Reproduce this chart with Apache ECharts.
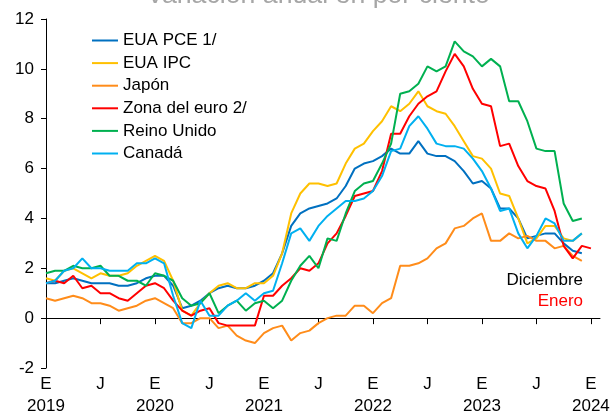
<!DOCTYPE html>
<html>
<head>
<meta charset="utf-8">
<script src="https://cdn.jsdelivr.net/npm/echarts@6/dist/echarts.min.js"></script>
<style>
  html, body { margin: 0; padding: 0; background: #fff; }
  #chart { width: 612px; height: 414px; }
</style>
</head>
<body>
<div id="chart"></div>
<script>
// meses ene 2019 - feb 2024 (el ultimo solo alarga el eje)
const months = []
for (let y = 2019; y <= 2024; y++) {
  for (let m = 1; m <= 12; m++) {
    if (y === 2024 && m > 2) break
    months.push(y + '-' + (m < 10 ? '0' + m : m))
  }
}

const seriesNames = ['EUA PCE 1/', 'EUA IPC', 'Japón', 'Zona del euro 2/', 'Reino Unido', 'Canadá']

const usPce = [
  1.4, 1.4, 1.5, 1.6, 1.5, 1.4, 1.4, 1.4, 1.3, 1.3, 1.4, 1.6,
  1.7, 1.7, 1.3, 0.4, 0.5, 0.7, 1.0, 1.2, 1.3, 1.2, 1.2, 1.3,
  1.5, 1.8, 2.6, 3.7, 4.2, 4.4, 4.5, 4.6, 4.8, 5.3, 6.0, 6.2,
  6.3, 6.5, 6.8, 6.6, 6.6, 7.1, 6.6, 6.5, 6.5, 6.3, 5.9, 5.4,
  5.5, 5.2, 4.4, 4.4, 4.0, 3.2, 3.3, 3.4, 3.4, 3.0, 2.7, 2.6
]
const usCpi = [
  1.6, 1.5, 1.9, 2.0, 1.8, 1.6, 1.8, 1.7, 1.7, 1.8, 2.1, 2.3,
  2.5, 2.3, 1.5, 0.3, 0.1, 0.6, 1.0, 1.3, 1.4, 1.2, 1.2, 1.4,
  1.4, 1.7, 2.6, 4.2, 5.0, 5.4, 5.4, 5.3, 5.4, 6.2, 6.8, 7.0,
  7.5, 7.9, 8.5, 8.3, 8.6, 9.1, 8.5, 8.3, 8.2, 7.7, 7.1, 6.5,
  6.4, 6.0, 5.0, 4.9, 4.0, 3.0, 3.2, 3.7, 3.7, 3.2, 3.1, 3.4
]
const japan = [
  0.8, 0.7, 0.8, 0.9, 0.8, 0.6, 0.6, 0.5, 0.3, 0.4, 0.5, 0.7,
  0.8, 0.6, 0.4, -0.2, -0.2, 0.0, 0.0, -0.4, -0.3, -0.7, -0.9, -1.0,
  -0.6, -0.4, -0.3, -0.9, -0.6, -0.5, -0.2, 0.0, 0.1, 0.1, 0.5, 0.5,
  0.2, 0.6, 0.8, 2.1, 2.1, 2.2, 2.4, 2.8, 3.0, 3.6, 3.7, 4.0,
  4.2, 3.1, 3.1, 3.4, 3.2, 3.3, 3.1, 3.1, 2.8, 2.9, 2.5, 2.3
]
const euroArea = [
  1.4, 1.5, 1.4, 1.7, 1.2, 1.3, 1.0, 1.0, 0.8, 0.7, 1.0, 1.3,
  1.4, 1.2, 0.7, 0.3, 0.1, 0.3, 0.4, -0.2, -0.3, -0.3, -0.3, -0.3,
  0.9, 0.9, 1.3, 1.6, 2.0, 1.9, 2.2, 3.0, 3.4, 4.1, 4.9, 5.0,
  5.1, 5.9, 7.4, 7.4, 8.1, 8.6, 8.9, 9.1, 9.9, 10.6, 10.1, 9.2,
  8.6, 8.5, 6.9, 7.0, 6.1, 5.5, 5.3, 5.2, 4.3, 2.9, 2.4, 2.9,
  2.8
]
const uk = [
  1.8, 1.9, 1.9, 2.1, 2.0, 2.0, 2.1, 1.7, 1.7, 1.5, 1.5, 1.3,
  1.8, 1.7, 1.5, 0.8, 0.5, 0.6, 1.0, 0.2, 0.5, 0.7, 0.3, 0.6,
  0.7, 0.4, 0.7, 1.5, 2.1, 2.5, 2.0, 3.2, 3.1, 4.2, 5.1, 5.4,
  5.5, 6.2, 7.0, 9.0, 9.1, 9.4, 10.1, 9.9, 10.1, 11.1, 10.7, 10.5,
  10.1, 10.4, 10.1, 8.7, 8.7, 7.9, 6.8, 6.7, 6.7, 4.6, 3.9, 4.0
]
const canada = [
  1.4, 1.5, 1.9, 2.0, 2.4, 2.0, 2.0, 1.9, 1.9, 1.9, 2.2, 2.2,
  2.4, 2.2, 0.9, -0.2, -0.4, 0.7, 0.1, 0.1, 0.5, 0.7, 1.0, 0.7,
  1.0, 1.1, 2.2, 3.4, 3.6, 3.1, 3.7, 4.1, 4.4, 4.7, 4.7, 4.8,
  5.1, 5.7, 6.7, 6.8, 7.7, 8.1, 7.6, 7.0, 6.9, 6.9, 6.8, 6.4,
  5.9, 5.2, 4.3, 4.4, 3.4, 2.8, 3.3, 4.0, 3.8, 3.1, 3.1, 3.4
]

const seriesData = [usPce, usCpi, japan, euroArea, uk, canada]
const colors = ['#0070C0', '#FFC000', '#FF8C1A', '#FF0000', '#00B050', '#00B0F0']
const font = 'Liberation Sans, Arial, sans-serif'

const chart = echarts.init(document.getElementById('chart'))

const series = seriesNames.map((name, i) => ({
  name,
  type: 'line',
  data: seriesData[i],
  symbol: 'none',
  lineStyle: { width: 2, color: colors[i] },
  itemStyle: { color: colors[i] },
  z: 3 + i
}))

series[0].markLine = {
  silent: true,
  symbol: 'none',
  label: { show: false },
  lineStyle: { color: '#000', width: 1, type: 'solid' },
  data: [[{ coord: [months[0], 0] }, { coord: [months[60], 0] }]]
}

chart.setOption({
  animation: false,
  textStyle: { fontFamily: font },
  color: colors,
  grid: {
    left: 46,
    right: 12,
    top: 19,
    bottom: 46,
    outerBoundsMode: 'none'
  },
  legend: {
    orient: 'vertical',
    left: 87,
    top: 27,
    icon: 'rect',
    itemWidth: 26,
    itemHeight: 2,
    itemGap: 5.6,
    textStyle: { fontSize: 17, color: '#000', lineHeight: 17, fontFamily: font },
    data: seriesNames
  },
  graphic: [
    {
      type: 'text',
      x: 318,
      y: -4,
      style: {
        text: 'Variación anual en por ciento',
        fill: '#A6A6A6',
        font: '26.7px ' + font,
        align: 'center',
        verticalAlign: 'middle'
      }
    },
    {
      type: 'text',
      x: 583,
      y: 280,
      style: {
        text: 'Diciembre',
        fill: '#000',
        font: '17px ' + font,
        align: 'right',
        verticalAlign: 'middle'
      }
    },
    {
      type: 'text',
      x: 583,
      y: 301,
      style: {
        text: 'Enero',
        fill: '#FF0000',
        font: '17px ' + font,
        align: 'right',
        verticalAlign: 'middle'
      }
    }
  ],
  xAxis: {
    type: 'category',
    data: months,
    boundaryGap: false,
    axisLine: { lineStyle: { color: '#000', width: 1 } },
    axisTick: { interval: 5, length: 6, lineStyle: { color: '#000' } },
    axisLabel: {
      interval: 5,
      margin: 5,
      color: '#000',
      fontSize: 17,
      lineHeight: 22,
      formatter: function(value, index) {
        if (index % 12 === 0) {
          return 'E\n' + value.slice(0, 4)
        }
        return 'J'
      }
    },
    splitLine: { show: false }
  },
  yAxis: {
    type: 'value',
    min: -2,
    max: 12,
    interval: 2,
    axisLine: { show: true, lineStyle: { color: '#000', width: 1 } },
    axisTick: { show: true, length: 5, lineStyle: { color: '#000' } },
    axisLabel: { color: '#000', fontSize: 17, margin: 12 },
    splitLine: { show: false }
  },
  series
})
</script>
</body>
</html>
